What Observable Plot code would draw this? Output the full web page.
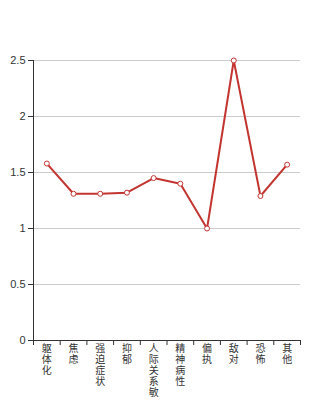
<!DOCTYPE html>
<html><head><meta charset="utf-8">
<script src="https://cdn.jsdelivr.net/npm/d3@7"></script>
<script src="https://cdn.jsdelivr.net/npm/@observablehq/plot@0.6"></script>
<style>body{margin:0;background:#fff}</style>
</head><body><div id="c"></div>
<script>
const categories = ["躯体化","焦虑","强迫症状","抑郁","人际关系敏","精神病性","偏执","敌对","恐怖","其他"];
const values = [1.58, 1.31, 1.31, 1.32, 1.45, 1.40, 1.00, 2.50, 1.29, 1.57];
const yTicks = [0, 0.5, 1, 1.5, 2, 2.5];

const data = categories.map((c, i) => ({i: i + 0.5, c, v: values[i]}));
const centers = data.map(d => d.i);
const bounds = d3.range(categories.length + 1);

const chart = Plot.plot({
  width: 334, height: 400,
  marginLeft: 33, marginRight: 34, marginTop: 60, marginBottom: 60,
  style: {fontFamily: "'Liberation Sans','Noto Sans CJK SC',sans-serif", fontSize: "11px", color: "#333", background: "#fff"},
  x: {type: "linear", domain: [0, categories.length]},
  y: {domain: [0, 2.5]},
  marks: [
    Plot.gridY(yTicks, {stroke: "#ccc", strokeOpacity: 1}),
    Plot.ruleY([0], {stroke: "#333"}),
    Plot.ruleX([0], {stroke: "#333"}),
    Plot.axisY(yTicks, {tickSize: 5, tickPadding: 3, stroke: "#333", fill: "#333", tickFormat: d => String(d), label: null}),
    Plot.axisX(bounds, {tickSize: 5, stroke: "#333", tickFormat: () => "", label: null}),
    Plot.axisX(centers, {tickSize: 0, tickPadding: 4, lineHeight: 1.1, fill: "#333",
      fontFamily: "'Noto Sans CJK SC',sans-serif", fontSize: 10,
      tickFormat: d => categories[Math.floor(d)].split("").join("\n"), label: null}),
    Plot.line(data, {x: "i", y: "v", stroke: "#c23531", strokeWidth: 2}),
    Plot.dot(data, {x: "i", y: "v", r: 2.5, fill: "#fff", stroke: "#c23531", strokeWidth: 1})
  ]
});
document.getElementById("c").appendChild(chart);
</script>
</body></html>
